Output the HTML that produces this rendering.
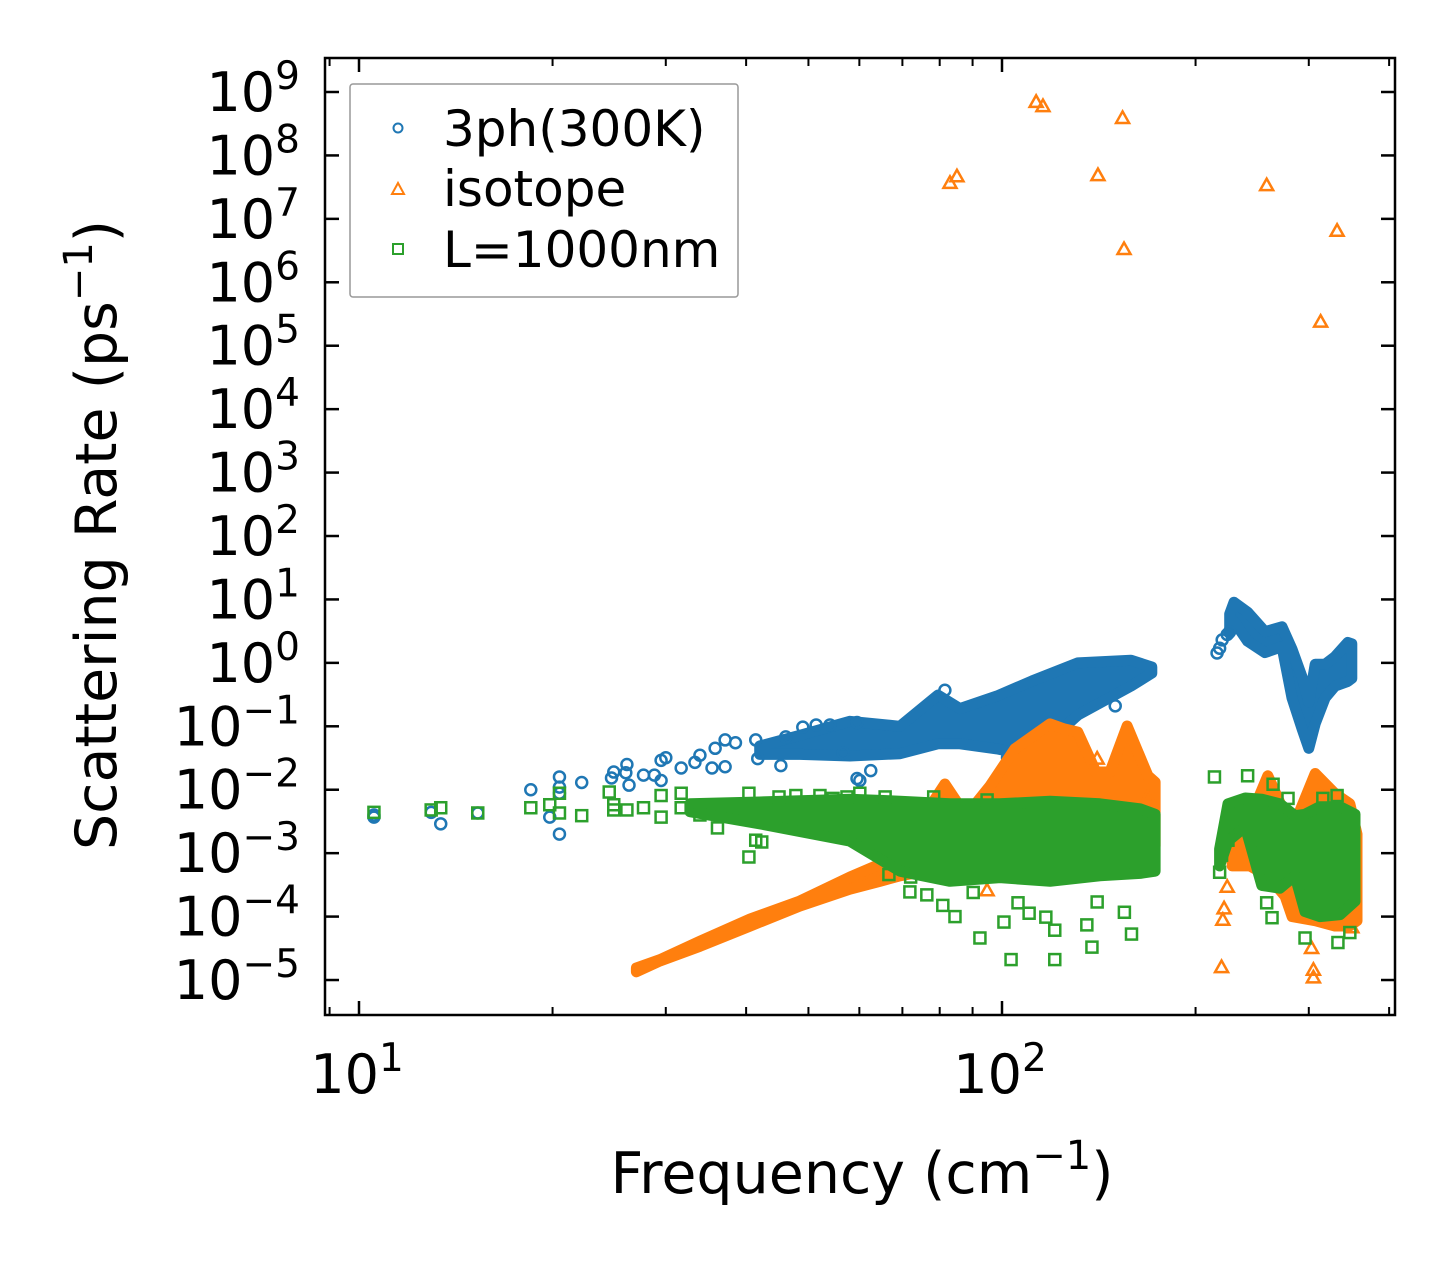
<!DOCTYPE html>
<html><head><meta charset="utf-8"><style>
html,body{margin:0;padding:0;background:#fff;}
svg{display:block;font-family:"DejaVu Sans","Liberation Sans",sans-serif;}
</style></head><body>
<svg id="chart" width="1455" height="1265" viewBox="0 0 1455 1265" xmlns="http://www.w3.org/2000/svg">
<rect width="1455" height="1265" fill="#fff"/>
<g id="marks"></g>
<g id="axes"></g>
<g id="legend">
  <rect x="350" y="84" width="388" height="213" fill="#fff" fill-opacity="0.8" stroke="#999" stroke-width="1.5" rx="3"/>
  <circle cx="398" cy="128" r="4.5" fill="none" stroke="#1f77b4" stroke-width="2"/>
  <text x="443" y="146" font-size="50" fill="#000">3ph(300K)</text>
  <path d="M392,194 L398,183 L404,194 Z" fill="none" stroke="#ff7f0e" stroke-width="2"/>
  <text x="443" y="206" font-size="50" fill="#000">isotope</text>
  <rect x="393" y="244" width="10" height="10" fill="none" stroke="#2ca02c" stroke-width="2"/>
  <text x="443" y="267" font-size="50" fill="#000">L=1000nm</text>
</g>
<text x="862" y="1193" font-size="57" text-anchor="middle">Frequency (cm<tspan dy="-24" font-size="40">−1</tspan><tspan dy="24">)</tspan></text>
<text transform="translate(116,535) rotate(-90)" x="0" y="0" font-size="57" text-anchor="middle">Scattering Rate (ps<tspan dy="-24" font-size="40">−1</tspan><tspan dy="24">)</tspan></text>
</svg>
<script>
// ---------- data ----------
const threePhBandFreq = [42.0,48.5,58.0,69.4,79.5,86.0,98.2,111.4,131.2,158.7,171];
const threePhBandHigh = [0.049,0.072,0.12,0.10,0.31,0.19,0.30,0.52,1.0,1.1,0.86];
const threePhBandLow  = [0.036,0.036,0.034,0.037,0.053,0.053,0.044,0.034,0.15,0.43,0.69];
const threePhBand2Freq = [226,229.5,241,256.5,272.6,282.5,293,300,307,318,329.5,345,350];
const threePhBand2High = [5.9,9.0,6.3,3.1,3.7,1.65,0.59,0.24,0.95,0.95,1.25,2.1,2.0];
const threePhBand2Low  = [2.9,4.5,2.2,1.45,1.8,0.28,0.09,0.045,0.11,0.28,0.43,0.51,0.57];
const threePhFreq = [10.55,10.55,12.95,13.4,15.3,18.5,19.8,20.5,20.5,20.5,20.5,22.2,24.7,24.9,26.1,26.0,26.3,27.7,28.8,29.5,29.5,30.0,31.7,33.3,33.9,35.4,35.8,37.1,37.1,38.5,41.4,41.7,45.3,46.1,49.0,51.4,54.0,56.6,59.5,59.5,60.1,62.5,150,81.5,102,216,218,220,224,226];
const threePhRate = [0.0040,0.0037,0.0044,0.0029,0.0043,0.010,0.0037,0.0159,0.011,0.0088,0.0020,0.013,0.0153,0.019,0.025,0.0185,0.0118,0.017,0.017,0.014,0.029,0.032,0.022,0.027,0.035,0.022,0.045,0.061,0.023,0.055,0.061,0.031,0.024,0.068,0.097,0.105,0.105,0.038,0.115,0.015,0.014,0.020,0.21,0.37,0.032,1.43,1.7,2.3,2.8,3.1];

const isoBandFreq = [27.0,29.4,33.9,40.6,48.5,58.0,64.6,69.4,75.9,81.5,87.9,95.8,104.7,118.8,124.9,131.2,140,147.2,156.5,168.6,173];
const isoBandHigh = [1.55e-5,2.1e-5,4.1e-5,9.2e-5,1.76e-4,4.2e-4,6.7e-4,1.4e-3,4.1e-3,0.0123,0.0039,0.0115,0.044,0.109,0.091,0.081,0.019,0.019,0.101,0.0166,0.0132];
const isoBandLow  = [1.35e-5,2.0e-5,3.4e-5,7.1e-5,1.47e-4,2.7e-4,3.6e-4,4.4e-4,5.2e-4,6.3e-4,6.3e-4,6.3e-4,6.3e-4,6.3e-4,6.3e-4,6.3e-4,6.3e-4,6.3e-4,6.3e-4,6.3e-4,1.3e-3];
const isoBand2Freq = [228,243,259,275.6,282.6,307,329.5,347.5,356.5];
const isoBand2High = [0.0014,0.0035,0.0166,0.0041,0.0023,0.018,0.0087,0.0060,0.0020];
const isoBand2Low  = [6.3e-4,6.3e-4,4.4e-4,2.1e-4,1.0e-4,8.6e-5,7.1e-5,7.1e-5,8.6e-5];
const isoFreq = [83.0,85.1,113,115.8,141,154,154.8,258,332,313,224,221.5,220.5,219.5,303,305,305,350,94.8,140.6,168.6,170];
const isoRate = [3.7e7,4.7e7,7.0e8,6.0e8,4.9e7,3.9e8,3.35e6,3.4e7,6.5e6,2.4e5,2.95e-4,1.35e-4,8.9e-5,1.6e-5,3.2e-5,1.45e-5,1.1e-5,6.8e-5,2.6e-4,0.031,0.0077,0.0025];

const bndBandFreq = [32.7,42.0,58.0,69.4,83.0,99.3,118.8,142,164,173];
const bndBandHigh = [0.0060,0.0064,0.0071,0.0066,0.0060,0.0060,0.0066,0.0060,0.0050,0.0041];
const bndBandLow  = [0.0045,0.0029,0.00155,5.2e-4,3.6e-4,4.1e-4,3.6e-4,4.4e-4,4.8e-4,5.2e-4];
const bndBand2Freq = [218,224.6,239,253.5,270.5,285.5,296,312,335.5,354];
const bndBand2High = [0.00116,0.0060,0.0074,0.0071,0.0060,0.0039,0.0041,0.0054,0.0054,0.0041];
const bndBand2Low  = [6.3e-4,0.00155,0.0026,3.1e-4,2.8e-4,4.4e-4,1.2e-4,1.0e-4,1.07e-4,1.75e-4];
const bndFreq = [10.55,12.95,13.4,15.3,18.5,19.8,20.5,20.5,22.2,24.5,24.9,24.9,26.1,27.7,29.5,29.5,31.7,31.7,33.9,36.1,40.4,41.4,40.4,42.3,45.0,47.8,52.1,54.6,57.4,71.9,76.4,80.9,84.5,92.4,100.7,103.3,110.2,120.8,120.8,117,135.5,138,159,155,140.6,66.7,72.1,90.2,105.9,60.1,65.8,78.3,94.8,110.2,241,264,278.5,332,315.5,296,333,347.5,263,258,218,219.5,224.6,214];
const bndRate = [0.0044,0.0048,0.0052,0.0043,0.0052,0.0058,0.0088,0.0043,0.0039,0.0092,0.0058,0.0048,0.0048,0.0052,0.0081,0.0037,0.0088,0.0052,0.0040,0.0025,0.0088,0.0016,0.00087,0.0015,0.0077,0.0081,0.0081,0.0073,0.0077,2.45e-4,2.2e-4,1.5e-4,1.0e-4,4.6e-5,8.2e-5,2.1e-5,1.13e-4,6.1e-5,2.1e-5,9.8e-5,7.4e-5,3.3e-5,5.3e-5,1.17e-4,1.7e-4,4.6e-4,4.2e-4,2.4e-4,1.65e-4,0.0088,0.0077,0.0077,0.0069,0.0058,0.0166,0.0122,0.0073,0.0081,0.0073,4.6e-5,3.9e-5,5.6e-5,9.6e-5,1.65e-4,5.0e-4,9.3e-4,0.0016,0.0159];

const yTickExps = [-5,-4,-3,-2,-1,0,1,2,3,4,5,6,7,8,9];
const xMajorTicks = [10,100];
const xMajorLabels = ["1","2"];
const xMinorTicks = [9,20,30,40,50,60,70,80,90,200,300,400];

// ---------- scales ----------
const L=325,R=1395,T=58,B=1015;
function xs(f){return 359 + 643*(Math.log10(f)-1);}
function ys(v){return 92 + 63.43*(9 - Math.log10(v));}
const NS="http://www.w3.org/2000/svg";
const marks=document.getElementById('marks');
const axes=document.getElementById('axes');
function mk(tag,attrs,parent){const e=document.createElementNS(NS,tag);for(const k in attrs)e.setAttribute(k,attrs[k]);parent.appendChild(e);return e;}

function band(freq,hi,lo,color,name){
  const pts=[];
  for(let i=0;i<freq.length;i++)pts.push(xs(freq[i]).toFixed(1)+','+ys(hi[i]).toFixed(1));
  for(let i=freq.length-1;i>=0;i--)pts.push(xs(freq[i]).toFixed(1)+','+ys(lo[i]).toFixed(1));
  const p=mk('polygon',{points:pts.join(' '),fill:color,stroke:color,'stroke-width':11,'stroke-linejoin':'round'},marks);
  
  
}
function circles(freq,rate,color,name){
  for(let i=0;i<freq.length;i++){
    const c=mk('circle',{cx:xs(freq[i]),cy:ys(rate[i]),r:5.5,fill:'none',stroke:color,'stroke-width':2.5},marks);
    
    
  }
}
function tris(freq,rate,color,name){
  for(let i=0;i<freq.length;i++){
    const x=xs(freq[i]),y=ys(rate[i]);
    const t=mk('path',{d:`M${x-6.5},${y+5} L${x},${y-6.5} L${x+6.5},${y+5} Z`,fill:'none',stroke:color,'stroke-width':2.5},marks);
    
    
  }
}
function squares(freq,rate,color,name){
  for(let i=0;i<freq.length;i++){
    const s=mk('rect',{x:xs(freq[i])-5.5,y:ys(rate[i])-5.5,width:11,height:11,fill:'none',stroke:color,'stroke-width':2.5},marks);
    
    
  }
}
const C1='#1f77b4',C2='#ff7f0e',C3='#2ca02c';
band(threePhBandFreq,threePhBandHigh,threePhBandLow,C1,'3ph-dense-band');
band(threePhBand2Freq,threePhBand2High,threePhBand2Low,C1,'3ph-dense-band-high-freq');
circles(threePhFreq,threePhRate,C1,'3ph-point');
band(isoBandFreq,isoBandHigh,isoBandLow,C2,'isotope-dense-band');
band(isoBand2Freq,isoBand2High,isoBand2Low,C2,'isotope-dense-band-high-freq');
tris(isoFreq,isoRate,C2,'isotope-point');
band(bndBandFreq,bndBandHigh,bndBandLow,C3,'boundary-dense-band');
band(bndBand2Freq,bndBand2High,bndBand2Low,C3,'boundary-dense-band-high-freq');
squares(bndFreq,bndRate,C3,'boundary-point');

// ---------- axes ----------
const frame=mk('rect',{x:L,y:T,width:R-L,height:B-T,fill:'none',stroke:'#000','stroke-width':2.5},axes);


yTickExps.forEach(e=>{
  const y=ys(Math.pow(10,e));
  mk('line',{x1:L,x2:L+14,y1:y,y2:y,stroke:'#000','stroke-width':2.5},axes);
  mk('line',{x1:R,x2:R-14,y1:y,y2:y,stroke:'#000','stroke-width':2.5},axes);
  const t=mk('text',{x:300,y:y+19,'font-size':54,'text-anchor':'end',fill:'#000'},axes);
  
  
  t.textContent='10';
  const s=document.createElementNS(NS,'tspan');
  s.setAttribute('dy',-22);s.setAttribute('font-size',39);
  s.textContent=(e<0?'−':'')+Math.abs(e);
  t.appendChild(s);
});
xMajorTicks.forEach((f,i)=>{
  const x=xs(f);
  mk('line',{x1:x,x2:x,y1:B,y2:B-14,stroke:'#000','stroke-width':2.5},axes);
  mk('line',{x1:x,x2:x,y1:T,y2:T+14,stroke:'#000','stroke-width':2.5},axes);
  const t=mk('text',{x:x-2,y:1093,'font-size':54,'text-anchor':'middle',fill:'#000'},axes);
  
  
  t.textContent='10';
  const s=document.createElementNS(NS,'tspan');
  s.setAttribute('dy',-22);s.setAttribute('font-size',39);
  s.textContent=xMajorLabels[i];
  t.appendChild(s);
});
xMinorTicks.forEach(f=>{
  const x=xs(f);
  if(x<L||x>R)return;
  mk('line',{x1:x,x2:x,y1:B,y2:B-8,stroke:'#000','stroke-width':2},axes);
  mk('line',{x1:x,x2:x,y1:T,y2:T+8,stroke:'#000','stroke-width':2},axes);
});
</script>
</body></html>
